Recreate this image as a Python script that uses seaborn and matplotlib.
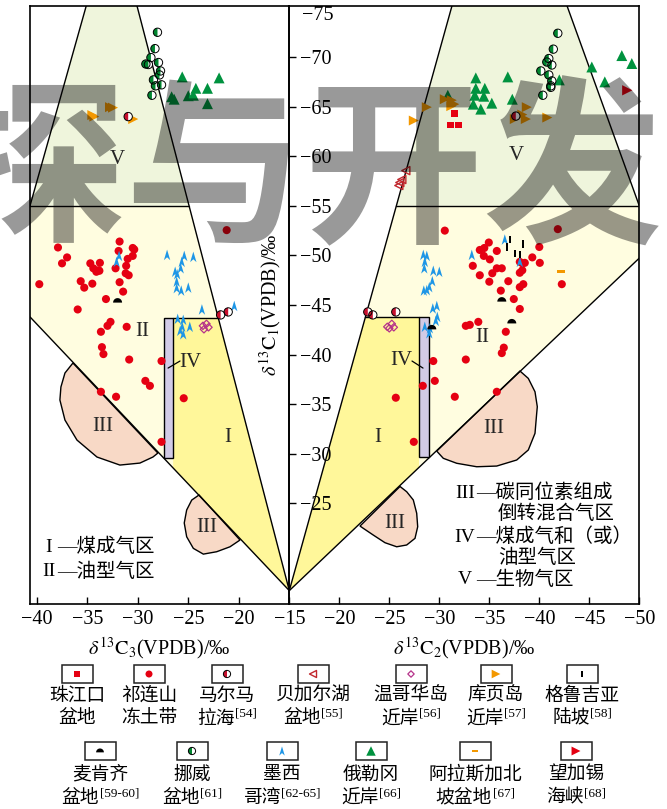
import numpy as np
import pandas as pd
import seaborn as sns
import matplotlib.pyplot as plt
from matplotlib.path import Path
from matplotlib.patches import Polygon, Rectangle

sns.set_theme(style="white")
plt.rcParams["font.family"] = ["Liberation Serif", "Noto Sans CJK SC"]
plt.rcParams["mathtext.fontset"] = "stix"
plt.rcParams["axes.unicode_minus"] = True
CJK = ["Liberation Serif", "Noto Sans CJK SC"]

# ---------------- data : left panel (d13C3 vs d13C1) ----------------
qilian_c3 = [-37.9, -37.0, -37.5, -39.75, -35.65, -35.3, -34.5, -34.7, -34.4, -34.1, -33.8,
             -33.75, -33.9, -31.8, -31.9, -32.2, -31.8, -31.45, -33.15, -31.15, -31.2, -30.9,
             -31.0, -30.5, -30.35, -30.5, -35.95, -32.7, -33.0, -33.65, -31.1, -33.55, -33.4,
             -30.85, -27.65, -29.25, -28.8, -33.65, -32.15, -25.45, -21.2, -27.65]
qilian_c1_l = [-50.8, -49.8, -49.2, -47.1, -47.4, -46.75, -47.15, -49.2, -48.7, -48.35, -48.45,
               -49.25, -48.5, -51.4, -50.45, -48.7, -47.3, -46.35, -45.6, -48.95, -48.2, -48.0,
               -49.65, -50.75, -50.6, -49.95, -44.55, -43.3, -42.9, -42.3, -42.8, -40.75, -40.05,
               -39.5, -39.35, -37.35, -36.85, -36.25, -35.75, -35.6, -52.55, -31.2]
norway_c3 = [-28.05, -28.3, -28.7, -29.2, -28.95, -27.95, -27.75, -27.85, -28.45, -28.25, -27.65, -28.6]
norway_c1_l = [-72.5, -70.85, -69.95, -69.3, -69.25, -69.45, -68.6, -68.2, -67.7, -67.1, -67.2, -66.15]
oregon_c3 = [-25.6, -21.95, -24.25, -23.1, -26.65, -26.4, -25.0, -24.5, -23.1]
oregon_c1_l = [-68.0, -67.9, -66.85, -66.85, -66.0, -65.75, -66.1, -66.15, -65.3]
kuye_c3 = [-32.45, -32.75, -34.3, -34.5, -30.45]
kuye_c1_l = [-64.9, -64.95, -64.0, -64.15, -63.75]
marmara_c3 = [-30.95, -21.8, -21.05]
marmara_c1_l = [-64.0, -44.0, -44.3]
vancouver_c3 = [-23.55, -23.2, -23.0, -23.45]
vancouver_c1_l = [-42.9, -43.1, -42.75, -42.55]
mackenzie_c3 = [-32.0]
mackenzie_c1_l = [-45.4]
mexico_c3 = [-27.1, -25.4, -24.5, -25.65, -25.75, -26.3, -26.1, -26.15, -26.15, -25.7, -25.0,
             -23.65, -20.45, -26.05, -25.5, -25.6, -24.85, -25.8, -25.5, -31.85, -32.1]
mexico_c1_l = [-50.05, -49.95, -49.85, -49.35, -48.7, -48.35, -48.1, -47.35, -46.7, -46.45, -46.75,
               -44.55, -44.9, -43.6, -43.5, -42.8, -42.8, -42.4, -42.05, -49.95, -49.35]

# ---------------- data : right panel (d13C2 vs d13C1) ----------------
qilian_c2 = [-30.55, -34.95, -34.5, -34.05, -35.75, -34.45, -35.05, -33.35, -34.05, -35.3, -35.75,
             -36.25, -35.0, -36.9, -36.15, -38.05, -38.3, -38.55, -38.3, -38.05, -38.4, -38.05,
             -37.45, -38.05, -39.3, -40.05, -40.0, -41.85, -42.25, -33.9, -32.65, -33.05, -36.65,
             -36.45, -36.25, -32.65, -29.4, -29.55, -28.35, -31.55, -35.75, -25.65, -27.45]
qilian_c1_r = [-52.5, -51.3, -50.75, -50.55, -50.45, -49.95, -49.6, -48.95, -48.0, -48.2, -48.7,
               -48.7, -47.35, -47.4, -46.45, -49.35, -49.2, -49.25, -48.5, -48.25, -47.1, -46.8,
               -45.6, -44.6, -49.8, -49.25, -50.85, -52.65, -47.1, -43.3, -42.9, -43.0, -42.3,
               -40.7, -40.15, -39.5, -39.35, -37.35, -36.85, -35.75, -36.25, -35.65, -31.2]
norway_c2 = [-41.85, -41.4, -40.95, -40.75, -41.25, -40.15, -40.95, -41.25, -41.15, -41.15, -40.35]
norway_c1_r = [-72.4, -70.8, -69.85, -69.5, -69.2, -68.6, -68.2, -67.6, -67.1, -66.95, -66.15]
oregon_c2 = [-33.65, -36.85, -33.65, -34.55, -33.55, -34.45, -33.4, -34.15, -35.25, -37.3, -42.0,
             -45.25, -46.55, -48.25, -49.25, -30.85]
oregon_c1_r = [-67.9, -68.0, -66.85, -66.85, -66.15, -66.05, -65.25, -64.75, -65.35, -65.75, -67.7,
               -69.0, -67.5, -70.15, -69.35, -66.15]
kuye_c2 = [-27.45, -28.75, -30.55, -31.25, -31.5, -31.2, -38.75, -38.3, -38.65, -37.55, -40.8]
kuye_c1_r = [-63.6, -64.95, -65.75, -65.65, -65.25, -65.05, -64.95, -64.2, -63.75, -63.75, -63.9]
zhujiang_c2 = [-31.55, -31.15, -31.95]
zhujiang_c1_r = [-64.3, -63.15, -63.15]
marmara_c2 = [-37.65, -22.85, -23.35, -25.65]
marmara_c1_r = [-64.05, -44.3, -44.0, -44.3]
baikal_c2 = [-26.65, -26.25, -25.95, -26.05]
baikal_c1_r = [-58.55, -57.65, -57.05, -57.35]
vancouver_c2 = [-24.8, -25.25, -25.45, -25.0]
vancouver_c1_r = [-42.8, -43.1, -42.75, -42.65]
georgia_c2 = [-37.05, -36.75, -38.35, -37.55, -38.05]
georgia_c1_r = [-51.6, -50.85, -51.15, -50.2, -50.1]
mackenzie_c2 = [-36.25, -37.25, -29.25]
mackenzie_c1_r = [-45.5, -43.3, -42.7]
alaska_c2 = [-42.15]
alaska_c1_r = [-48.35]
makassar_c2 = [-48.8]
makassar_c1_r = [-66.65]
mexico_c2 = [-28.4, -28.75, -28.55, -28.5, -29.4, -30.0, -29.3, -29.0, -28.75, -28.45, -29.75,
             -29.35, -29.8, -29.65, -28.55, -29.05, -29.0, -33.25, -36.55, -38.05]
mexico_c1_r = [-50.05, -49.95, -49.35, -48.7, -48.45, -48.35, -47.4, -46.8, -46.5, -46.45, -44.9,
               -44.65, -43.8, -43.4, -42.8, -42.65, -42.15, -50.05, -51.6, -49.35]

# ---------------- legend texts ----------------
legend_l1 = ["珠江口", "祁连山", "马尔马", "贝加尔湖", "温哥华岛", "库页岛", "格鲁吉亚",
             "麦肯齐", "挪威", "墨西", "俄勒冈", "阿拉斯加北", "望加锡"]
legend_l2 = ["盆地", "冻土带", "拉海", "盆地", "近岸", "近岸", "陆坡",
             "盆地", "盆地", "哥湾", "近岸", "坡盆地", "海峡"]
legend_ref = ["", "", "[54]", "[55]", "[56]", "[57]", "[58]",
              "[59-60]", "[61]", "[62-65]", "[66]", "[67]", "[68]"]
legend_keys = ["zhujiang", "qilian", "marmara", "baikal", "vancouver", "kuye", "georgia",
               "mackenzie", "norway", "mexico", "oregon", "alaska", "makassar"]
xticks_c3 = [-40, -35, -30, -25, -20, -15]
xticks_c2 = [-20, -25, -30, -35, -40, -45, -50]
yticks_c1 = [-70, -65, -60, -55, -50, -45, -40, -35, -30, -25]

# ---------------- zone geometry (data coords) ----------------
YTOP, YBOT = -75.15, -14.85
XL0 = -40.67
VERT = (-15.0, -16.2)
blob_l1 = [(-36.42, -39.15), (-37.21, -38.14), (-37.61, -36.73), (-37.71, -35.42), (-37.21, -33.4),
           (-36.02, -31.38), (-34.04, -29.67), (-31.77, -28.86), (-29.79, -29.06), (-28.5, -29.67),
           (-28.01, -30.07)]
blob_l2 = [(-23.94, -25.84), (-24.66, -25.33), (-25.16, -24.33), (-25.4, -23.02), (-25.16, -21.63),
           (-24.5, -20.46), (-23.51, -19.88), (-22.19, -20.12), (-20.87, -20.62), (-19.88, -21.3)]
blob_r1 = [(-38.07, -38.34), (-38.9, -37.6), (-39.57, -36.25), (-39.8, -34.74), (-39.74, -34.08),
           (-39.57, -32.06), (-38.9, -30.38), (-37.74, -29.37), (-35.74, -28.76), (-33.74, -28.69),
           (-31.74, -29.04), (-30.4, -29.54), (-29.74, -30.27)]
blob_r2 = [(-26.07, -26.7), (-26.74, -26.17), (-27.4, -25.34), (-27.74, -24.0), (-27.84, -22.64),
           (-27.57, -21.47), (-26.74, -20.8), (-25.74, -20.62), (-24.57, -21.03), (-23.4, -21.8),
           (-22.4, -22.48), (-22.07, -22.71)]

C_V = "#eff5dc"
C_II = "#fffde0"
C_I = "#fff79a"
C_IV = "#d2cbe6"
C_III = "#f8d9c6"
RED = "#e50012"


def xat(p, q, y):
    return p[0] + (y - p[1]) * (q[0] - p[0]) / (q[1] - p[1])


def yat(p, q, x):
    return p[1] + (x - p[0]) * (q[1] - p[1]) / (q[0] - p[0])


# ---------------- markers ----------------
th = np.linspace(np.pi / 2, 3 * np.pi / 2, 40)
HALF_L = Path(np.vstack([np.column_stack([np.cos(th), np.sin(th)]), [[0, 1]]]), closed=True)
th2 = np.linspace(0, np.pi, 40)
DOME = Path(np.vstack([np.column_stack([np.cos(th2), np.sin(th2) - 0.35]), [[1, -0.35]]]), closed=True)
ARROW = Path([(0, 1), (0.6, -1), (0, -0.45), (-0.6, -1), (0, 1)], closed=True)
VBAR = Path([(-0.33, -1), (0.33, -1), (0.33, 1), (-0.33, 1), (-0.33, -1)], closed=True)
HBAR = Path([(-1, -0.38), (1, -0.38), (1, 0.38), (-1, 0.38), (-1, -0.38)], closed=True)

STYLE = {
    "zhujiang": dict(marker="s", s=24, color=RED),
    "qilian": dict(marker="o", s=34, color=RED),
    "marmara": dict(half=True, s=36, color="#c8102e"),
    "baikal": dict(marker="<", s=34, color="#c1272d", fc="none", lw=1.0),
    "vancouver": dict(marker="D", s=14, color="#b5338a", fc="none", lw=0.9),
    "kuye": dict(marker=">", s=52, color="#f39800"),
    "georgia": dict(marker=VBAR, s=30, color="black"),
    "mackenzie": dict(marker=DOME, s=42, color="black"),
    "norway": dict(half=True, s=36, color="#00852f"),
    "mexico": dict(marker=ARROW, s=58, color="#1e96e6"),
    "oregon": dict(marker="^", s=62, color="#00923f"),
    "alaska": dict(marker=HBAR, s=32, color="#f39800"),
    "makassar": dict(marker=">", s=55, color=RED),
}


def draw(ax, x, y, key, scale=1.0, z=6):
    st = STYLE[key]
    s = st["s"] * scale
    if st.get("half"):
        sns.scatterplot(x=x, y=y, ax=ax, marker="o", s=s, color="white", edgecolor="none",
                        linewidth=0, legend=False, zorder=z)
        sns.scatterplot(x=x, y=y, ax=ax, marker=HALF_L, s=s, color=st["color"], edgecolor="none",
                        linewidth=0, legend=False, zorder=z)
        sns.scatterplot(x=x, y=y, ax=ax, marker="o", s=s, color="black", facecolor="none",
                        edgecolor="black", linewidth=0.7, legend=False, zorder=z)
    elif "fc" in st:
        sns.scatterplot(x=x, y=y, ax=ax, marker=st["marker"], s=s, color=st["color"],
                        facecolor="none", edgecolor=st["color"], linewidth=st["lw"],
                        legend=False, zorder=z)
    else:
        sns.scatterplot(x=x, y=y, ax=ax, marker=st["marker"], s=s, color=st["color"],
                        edgecolor="none", linewidth=0, legend=False, zorder=z)


# ---------------- figure ----------------
W, H = 667, 809
fig = plt.figure(figsize=(W / 100, H / 100), dpi=100)
fig.patch.set_facecolor("white")


def fa(x0, y0, x1, y1):
    return [x0 / W, 1 - y1 / H, (x1 - x0) / W, (y1 - y0) / H]


ax_l = fig.add_axes(fa(30, 6, 289.3, 604))
ax_r = fig.add_axes(fa(289.3, 6, 639.3, 604))
ax_l.set_zorder(2)
ax_r.set_zorder(1)
ax_l.patch.set_visible(False)

LW = 1.0
# ---- left zones
vl_bot, vl_top = (XL0, -55.0), (-34.83, YTOP - 1)
B_top = (-30.07 - 0.26, YTOP - 1)
xB55 = xat(B_top, VERT, -55.0)
xB437 = xat(B_top, VERT, -43.7)
C0 = (XL0, -43.8)
IVL = (-27.4, -26.5, -43.7, -29.57)
ax_l.add_patch(Polygon([vl_bot, vl_top, B_top, (xB55, -55.0)], closed=True, fc=C_V, ec="none", zorder=1))
ax_l.add_patch(Polygon([(XL0, -55.0), (xB55, -55.0), VERT, C0], closed=True, fc=C_II, ec="none", zorder=1))
ax_l.add_patch(Polygon([(IVL[1], -43.7), (xB437, -43.7), VERT, (IVL[1], yat(C0, VERT, IVL[1]))],
                       closed=True, fc=C_I, ec="none", zorder=1.2))
for b in (blob_l1, blob_l2):
    ax_l.add_patch(Polygon(b, closed=True, fc=C_III, ec="black", lw=LW, zorder=1.5))
ax_l.add_patch(Rectangle((IVL[0], IVL[2]), IVL[1] - IVL[0], IVL[3] - IVL[2], fc=C_IV, ec="black",
                         lw=LW, zorder=2.5))
for seg in ([vl_bot, vl_top], [B_top, VERT], [C0, VERT], [(XL0, -55.0), (xB55, -55.0)],
            [(IVL[1], -43.7), (xB437, -43.7)]):
    ax_l.plot([seg[0][0], seg[1][0]], [seg[0][1], seg[1][1]], color="black", lw=LW, zorder=2)
ax_l.plot([-27.0, -25.82], [-38.64, -39.35], color="black", lw=0.9, zorder=3)

# ---- right zones
D_top = (-31.27 - 0.27, YTOP - 1)
E_top = (-42.77 + 0.35, YTOP - 1)
E_bot = (-50.0, -55.0)
F0 = (-50.0, -49.73)
xD55 = xat(D_top, VERT, -55.0)
xD438 = xat(D_top, VERT, -43.78)
IVR = (-27.97, -28.97, -43.78, -29.67)
ax_r.add_patch(Polygon([(xD55, -55.0), D_top, E_top, E_bot], closed=True, fc=C_V, ec="none", zorder=1))
ax_r.add_patch(Polygon([(xD55, -55.0), (-50.0, -55.0), F0, VERT], closed=True, fc=C_II, ec="none", zorder=1))
ax_r.add_patch(Polygon([(xD438, -43.78), (IVR[0], -43.78), (IVR[0], yat(F0, VERT, IVR[0])), VERT],
                       closed=True, fc=C_I, ec="none", zorder=1.2))
for b in (blob_r1, blob_r2):
    ax_r.add_patch(Polygon(b, closed=True, fc=C_III, ec="black", lw=LW, zorder=1.5))
ax_r.add_patch(Rectangle((IVR[0], IVR[2]), IVR[1] - IVR[0], IVR[3] - IVR[2], fc=C_IV, ec="black",
                         lw=LW, zorder=2.5))
for seg in ([D_top, VERT], [E_top, E_bot], [F0, VERT], [(xD55, -55.0), (-50.0, -55.0)],
            [(xD438, -43.78), (IVR[0], -43.78)]):
    ax_r.plot([seg[0][0], seg[1][0]], [seg[0][1], seg[1][1]], color="black", lw=LW, zorder=2)
ax_r.plot([-27.27, -28.37], [-39.35, -38.64], color="black", lw=0.9, zorder=3)

# ---- zone labels
ROM = dict(fontsize=15, family="Liberation Serif", ha="center", va="center", zorder=4)
for ax, items in ((ax_l, [("V", -32.05, -59.7), ("II", -29.6, -42.3), ("IV", -24.8, -39.25),
                          ("I", -21.05, -31.6), ("III", -33.45, -32.7), ("III", -23.15, -22.6)]),
                  (ax_r, [("V", -37.75, -60.1), ("II", -34.25, -41.7), ("IV", -26.25, -39.45),
                          ("I", -23.85, -31.6), ("III", -35.45, -32.5), ("III", -25.55, -23.0)])):
    for t, x, y in items:
        ax.text(x, y, t, **ROM)

# ---- data points
draw(ax_l, qilian_c3, qilian_c1_l, "qilian")
draw(ax_l, mexico_c3, mexico_c1_l, "mexico")
draw(ax_l, oregon_c3, oregon_c1_l, "oregon")
draw(ax_l, kuye_c3, kuye_c1_l, "kuye")
draw(ax_l, norway_c3, norway_c1_l, "norway")
draw(ax_l, marmara_c3, marmara_c1_l, "marmara")
draw(ax_l, vancouver_c3, vancouver_c1_l, "vancouver")
draw(ax_l, mackenzie_c3, mackenzie_c1_l, "mackenzie")

draw(ax_r, qilian_c2, qilian_c1_r, "qilian")
draw(ax_r, mexico_c2, mexico_c1_r, "mexico")
draw(ax_r, oregon_c2, oregon_c1_r, "oregon")
draw(ax_r, kuye_c2, kuye_c1_r, "kuye")
draw(ax_r, zhujiang_c2, zhujiang_c1_r, "zhujiang")
draw(ax_r, norway_c2, norway_c1_r, "norway")
draw(ax_r, marmara_c2, marmara_c1_r, "marmara")
draw(ax_r, baikal_c2, baikal_c1_r, "baikal")
draw(ax_r, vancouver_c2, vancouver_c1_r, "vancouver")
draw(ax_r, georgia_c2, georgia_c1_r, "georgia")
draw(ax_r, mackenzie_c2, mackenzie_c1_r, "mackenzie")
draw(ax_r, alaska_c2, alaska_c1_r, "alaska")
draw(ax_r, makassar_c2, makassar_c1_r, "makassar")

# ---- axes
ax_l.set_xlim(XL0, -15)
ax_r.set_xlim(-15, -50)
for ax in (ax_l, ax_r):
    ax.set_ylim(YBOT, YTOP)
    ax.grid(False)
    for sp in ax.spines.values():
        sp.set_color("black")
        sp.set_linewidth(1.2)
        sp.set_visible(True)
    ax.set_ylabel("")
ax_l.set_xticks(xticks_c3)
ax_r.set_xticks(xticks_c2)
for ax in (ax_l, ax_r):
    ax.tick_params(axis="x", bottom=True, top=False, direction="in", length=5, width=1,
                   color="black", pad=4, labelsize=14.5, labelcolor="black")
ax_l.set_yticks(yticks_c1)
ax_l.tick_params(axis="y", left=False, labelleft=False, right=True, labelright=True,
                 direction="out", length=5, width=1, color="black", pad=3, labelsize=14.5,
                 labelcolor="black")
ax_r.set_yticks([])
ax_r.tick_params(axis="y", left=False, labelleft=False, right=False, labelright=False)
ax_l.set_xlabel(r"$\delta^{13}\mathrm{C}_{3}$(VPDB)/‰", fontsize=14.5, labelpad=5, color="black")
ax_r.set_xlabel(r"$\delta^{13}\mathrm{C}_{2}$(VPDB)/‰", fontsize=14.5, labelpad=5, color="black")

# ---------------- overlay (pixel coords) ----------------
ax_o = fig.add_axes([0, 0, 1, 1])
ax_o.set_zorder(5)
ax_o.patch.set_visible(False)
ax_o.axis("off")

ax_o.text(302, 15, "−75", fontsize=14.5, ha="left", va="center", color="black")
ax_o.text(270, 305, r"$\delta^{13}\mathrm{C}_{1}$(VPDB)/‰", fontsize=14.5, rotation=90,
          ha="center", va="center", color="black")

TXT = dict(fontsize=14, family=CJK, color="black", va="center")
for num, dash, y in (("I", "—煤成气区", 547), ("II", "—油型气区", 572)):
    ax_o.text(49, y, num, ha="center", **TXT)
    ax_o.text(57, y, dash, ha="left", **TXT)
for num, rest, x, y in (("III", "—碳同位素组成", 476, 493), (None, "倒转混合气区", 498, 514),
                        ("IV", "—煤成气和（或）", 476, 537), (None, "油型气区", 498, 558),
                        ("V", "—生物气区", 476, 580)):
    if num:
        ax_o.text(465, y, num, ha="center", **TXT)
    ax_o.text(x, y, rest, ha="left", **TXT)

leg_cx = [77, 149, 227, 313, 411, 496, 582, 100, 192, 282, 371, 475, 576]
box_y, t1_y, t2_y = [674, 751], [696, 775], [719, 798]
pending = []
for i, key in enumerate(legend_keys):
    r = 0 if i < 7 else 1
    cx = leg_cx[i]
    ax_o.add_patch(Rectangle((cx - 15.5, box_y[r] - 9), 31, 18, fill=False, ec="#222222", lw=1.1))
    draw(ax_o, [cx], [box_y[r]], key, scale=0.75, z=7)
    ax_o.text(cx, t1_y[r], legend_l1[i], fontsize=13.5, family=CJK, ha="center", va="center",
              color="black")
    tm = ax_o.text(cx, t2_y[r], legend_l2[i], fontsize=13.5, family=CJK, ha="left", va="center",
                   color="black")
    ts = ax_o.text(cx, t2_y[r] - 5, legend_ref[i], fontsize=9.5, family="Liberation Serif",
                   ha="left", va="center", color="black")
    pending.append((cx, t2_y[r], tm, ts))

# watermark
ax_o.text(305, 178, "探与开发", fontsize=129, family=["Noto Sans CJK SC"], fontweight="bold",
          color="black", alpha=0.4, ha="center", va="center", zorder=20)

ax_o.set_xlim(0, W)
ax_o.set_ylim(H, 0)

fig.canvas.draw()
rend = fig.canvas.get_renderer()
for cx, y, tm, ts in pending:
    wm = tm.get_window_extent(rend).width
    ws = ts.get_window_extent(rend).width if ts.get_text() else 0
    x0 = cx - (wm + ws) / 2
    tm.set_x(x0)
    ts.set_x(x0 + wm + 0.5)

fig.savefig("out.png", dpi=100)
